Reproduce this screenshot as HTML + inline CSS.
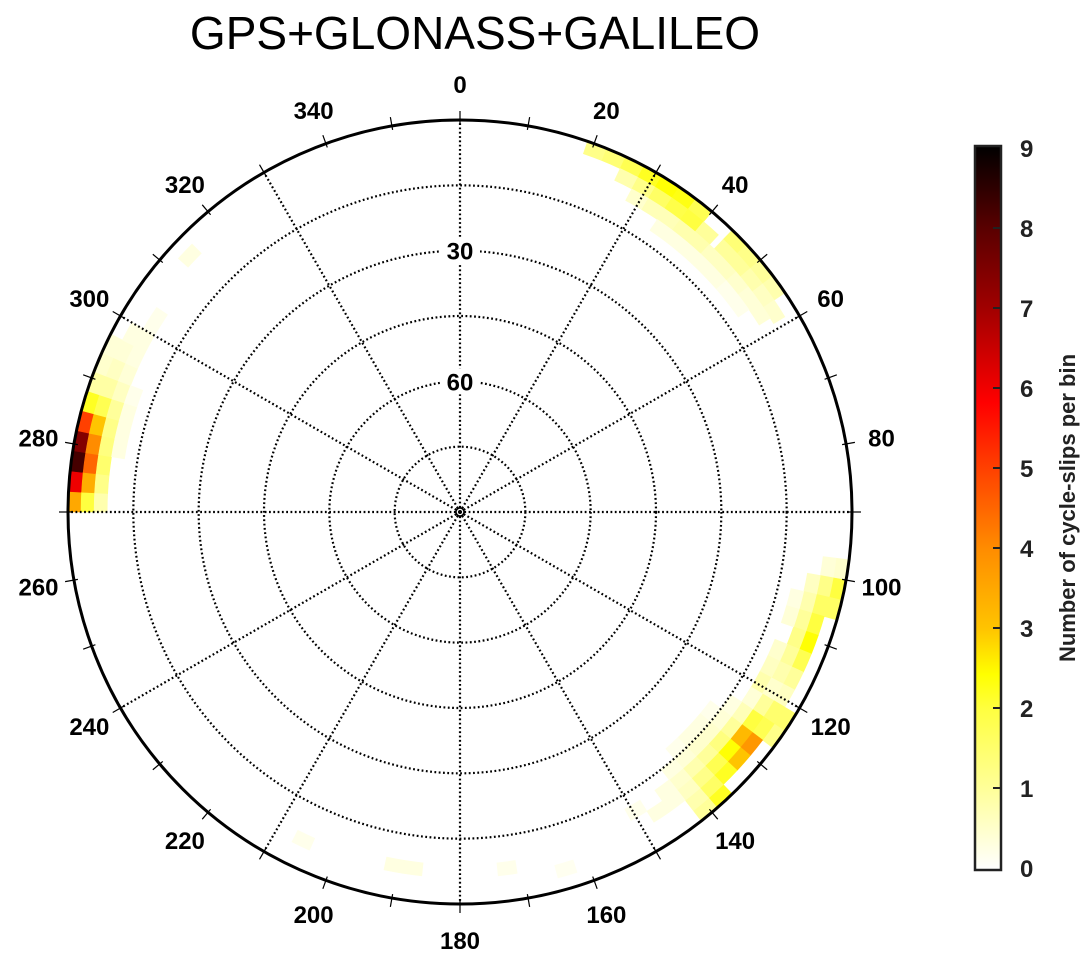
<!DOCTYPE html>
<html><head><meta charset="utf-8"><style>
html,body{margin:0;padding:0;background:#fff;width:1084px;height:966px;overflow:hidden}
svg{display:block;font-family:"Liberation Sans",Arial,sans-serif}
</style></head><body>
<svg id="chart" width="1084" height="966" viewBox="0 0 1084 966">
<defs>
<linearGradient id="cbgrad" x1="0" y1="1" x2="0" y2="0">
<stop offset="0" stop-color="#ffffff"/><stop offset="0.111" stop-color="#ffff9a"/>
<stop offset="0.222" stop-color="#ffff40"/><stop offset="0.27" stop-color="#ffff00"/>
<stop offset="0.333" stop-color="#ffc400"/><stop offset="0.444" stop-color="#ff8c00"/>
<stop offset="0.555" stop-color="#ff4000"/><stop offset="0.645" stop-color="#ff0000"/>
<stop offset="0.777" stop-color="#a00000"/><stop offset="0.888" stop-color="#580000"/>
<stop offset="1" stop-color="#000000"/>
</linearGradient>
</defs>
<text x="475" y="49" font-size="46" text-anchor="middle">GPS+GLONASS+GALILEO</text>
<g id="cells"></g>
<g id="grid"></g>
<g id="labels"></g>
<g>
<rect x="975" y="146" width="26" height="724" fill="url(#cbgrad)" stroke="#222" stroke-width="2.5"/>
<g id="cbticks"></g>
<text transform="translate(1075,508) rotate(-90)" font-size="22" font-weight="bold" text-anchor="middle" fill="#222">Number of cycle-slips per bin</text>
</g>
</svg>
<script>
// bin data: azimuth start (deg), elevation start (deg), cycle-slip count
const binAz = [270,273,276,279,282,285,288,291,294, 270,273,276,279,282,285,288,291,294,297, 270,273,276,279,282,285,288,291,294,297,300, 279,282,285,288, 312,301,
 97,100,103, 97,100,103,106,109,112,115, 100,103,106,109,112,115,118, 103,106,112,115,118,121,
 121,124,127,130,133,136,139, 118,121,124,127,130,133,136,139, 118,121,124,127,130,133,136,139,142, 121,124,127,130,133,136,139,142, 124,127,130,133,136,139, 127,130,133,136, 145,148,
 19,22,25,28,31,34,37,44,47,50,53, 25,28,31,34,37,40,44,47,50,53,56, 28,31,34,37,40,43,46,49,52,55, 34,37,40,43,46,49,52,
 186,189,204,171,162];
const binEl = [0,0,0,0,0,0,0,0,0, 3,3,3,3,3,3,3,3,3,3, 6,6,6,6,6,6,6,6,6,6,6, 9,9,9,9, 3,6,
 0,0,0, 3,3,3,3,3,3,3, 6,6,6,6,6,6,6, 9,9,9,9,9,9,
 0,0,0,0,0,0,0, 3,3,3,3,3,3,3,3, 6,6,6,6,6,6,6,6,6, 9,9,9,9,9,9,9,9, 12,12,12,12,12,12, 15,15,15,15, 6,9,
 0,0,0,0,0,0,0,0,0,0,0, 3,3,3,3,3,3,3,3,3,3,3, 6,6,6,6,6,6,6,6,6,6, 9,9,9,9,9,9,9,
 6,6,5,6,3];
const binVal = [3.5,6,8.2,7.4,5,2.2,0.9,0.5,0.4, 2,3.4,4.5,4,3,1.8,0.9,0.6,0.4,0.3, 0.8,1.2,1.5,1.3,1.2,1,0.6,0.4,0.3,0.3,0.2, 0.3,0.3,0.3,0.2, 0.3,0.2,
 0.5,2.0,1.6, 0.4,1.2,1.6,2.0,2.4,1.8,1.0, 0.6,0.8,1.0,1.2,1.0,0.8,1.2, 0.3,0.4,0.5,0.6,0.8,0.7,
 1.5,1.2,0,0,0,2.2,1.0, 0.6,1.5,1.8,3.8,3.0,2.2,1.6,0.8, 0.5,1.0,2.0,3.2,2.4,1.8,1.2,0.6,0.3, 0.4,0.7,1.0,1.3,1.0,0.8,0.5,0.3, 0.3,0.4,0.5,0.5,0.4,0.3, 0.2,0.3,0.3,0.2, 0.3,0.2,
 1.2,1.4,1.8,2.2,2.4,2.3,1.8,1.4,1.2,1.0,0.8, 0.8,1.2,1.6,1.9,2.0,1.0,1.0,1.0,0.8,0.6,0.5, 0.5,0.7,0.7,0.8,0.8,0.6,0.6,0.5,0.4,0.4, 0.3,0.3,0.3,0.3,0.3,0.2,0.2,
 0.3,0.3,0.2,0.2,0.15];
const azTickLabels = [0,20,40,60,80,100,120,140,160,180,200,220,240,260,280,300,320,340];
const elTickLabels = [30,60];
const cbTickLabels = [0,1,2,3,4,5,6,7,8,9];

const NS='http://www.w3.org/2000/svg';
const CX=460, CY=512, R=392, BIN=3;
function rad(el){return (90-el)/90*R;}
function pt(az,r){const a=az*Math.PI/180;return [CX+r*Math.sin(a),CY-r*Math.cos(a)];}
const stops=[[0,[255,255,255]],[1,[255,255,154]],[2,[255,255,64]],[2.43,[255,255,0]],[3,[255,196,0]],[4,[255,140,0]],[5,[255,64,0]],[5.8,[255,0,0]],[7,[160,0,0]],[8,[88,0,0]],[9,[0,0,0]]];
function color(v){v=Math.max(0,Math.min(9,v));for(let i=1;i<stops.length;i++){if(v<=stops[i][0]){const a=stops[i-1],b=stops[i],t=(v-a[0])/(b[0]-a[0]);return 'rgb('+a[1].map((c,k)=>Math.round(c+(b[1][k]-c)*t)).join(',')+')';}}return '#000';}
function mk(tag,attrs,parent){const e=document.createElementNS(NS,tag);for(const k in attrs)e.setAttribute(k,attrs[k]);parent.appendChild(e);return e;}
const cells=document.getElementById('cells');
for(let i=0;i<binAz.length;i++){
  if(binVal[i]<=0)continue;
  const a0=binAz[i],a1=a0+BIN,r0=rad(binEl[i]),r1=rad(binEl[i]+BIN);
  const p1=pt(a0,r0),p2=pt(a1,r0),p3=pt(a1,r1),p4=pt(a0,r1);
  const d=`M${p1}A${r0},${r0} 0 0 1 ${p2}L${p3}A${r1},${r1} 0 0 0 ${p4}Z`;
  const c=mk('path',{d:d,fill:color(binVal[i]),stroke:color(binVal[i]),'stroke-width':0.6},cells);
  
  
}
const grid=document.getElementById('grid');
for(let k=1;k<6;k++){const c=mk('circle',{cx:CX,cy:CY,r:R*k/6,fill:'none',stroke:'#000','stroke-width':2.2,'stroke-dasharray':'1.8 2.5'},grid);
  
  }
for(let a=0;a<360;a+=30){const p=pt(a,R);const l=mk('line',{x1:CX,y1:CY,x2:p[0],y2:p[1],stroke:'#000','stroke-width':2.2,'stroke-dasharray':'1.8 2.5'},grid);
  
  }
for(let a=0;a<360;a+=10){const p=pt(a,R-4),q=pt(a,R+9);const l=mk('line',{x1:p[0],y1:p[1],x2:q[0],y2:q[1],stroke:'#000','stroke-width':1.2},grid);
  
  }
const oc=mk('circle',{cx:CX,cy:CY,r:R,fill:'none',stroke:'#000','stroke-width':3},grid);


mk('circle',{cx:CX,cy:CY,r:4,fill:'none',stroke:'#000','stroke-width':1.5},grid);
mk('circle',{cx:CX,cy:CY,r:1.5,fill:'#000'},grid);
const labels=document.getElementById('labels');
azTickLabels.forEach(a=>{const p=pt(a,428);const t=mk('text',{x:p[0],y:p[1]+9,'font-size':24,'font-weight':'bold','text-anchor':'middle'},labels);t.textContent=a;
  
  });
elTickLabels.forEach(e=>{const r=rad(e);mk('rect',{x:CX-20,y:CY-r-13,width:40,height:26,fill:'#fff'},labels);
  const t=mk('text',{x:CX,y:CY-r+9,'font-size':24,'font-weight':'bold','text-anchor':'middle'},labels);t.textContent=e;
  
  });
const cbt=document.getElementById('cbticks');
cbTickLabels.forEach(v=>{const y=868-v*(720/9);
  if(v>0&&v<9){const l=mk('line',{x1:993,y1:y,x2:1000,y2:y,stroke:'#222','stroke-width':2},cbt);
    
    }
  const t=mk('text',{x:1020,y:y+9,'font-size':24,'font-weight':'bold',fill:'#222'},cbt);t.textContent=v;
  
  });
</script>
</body></html>
